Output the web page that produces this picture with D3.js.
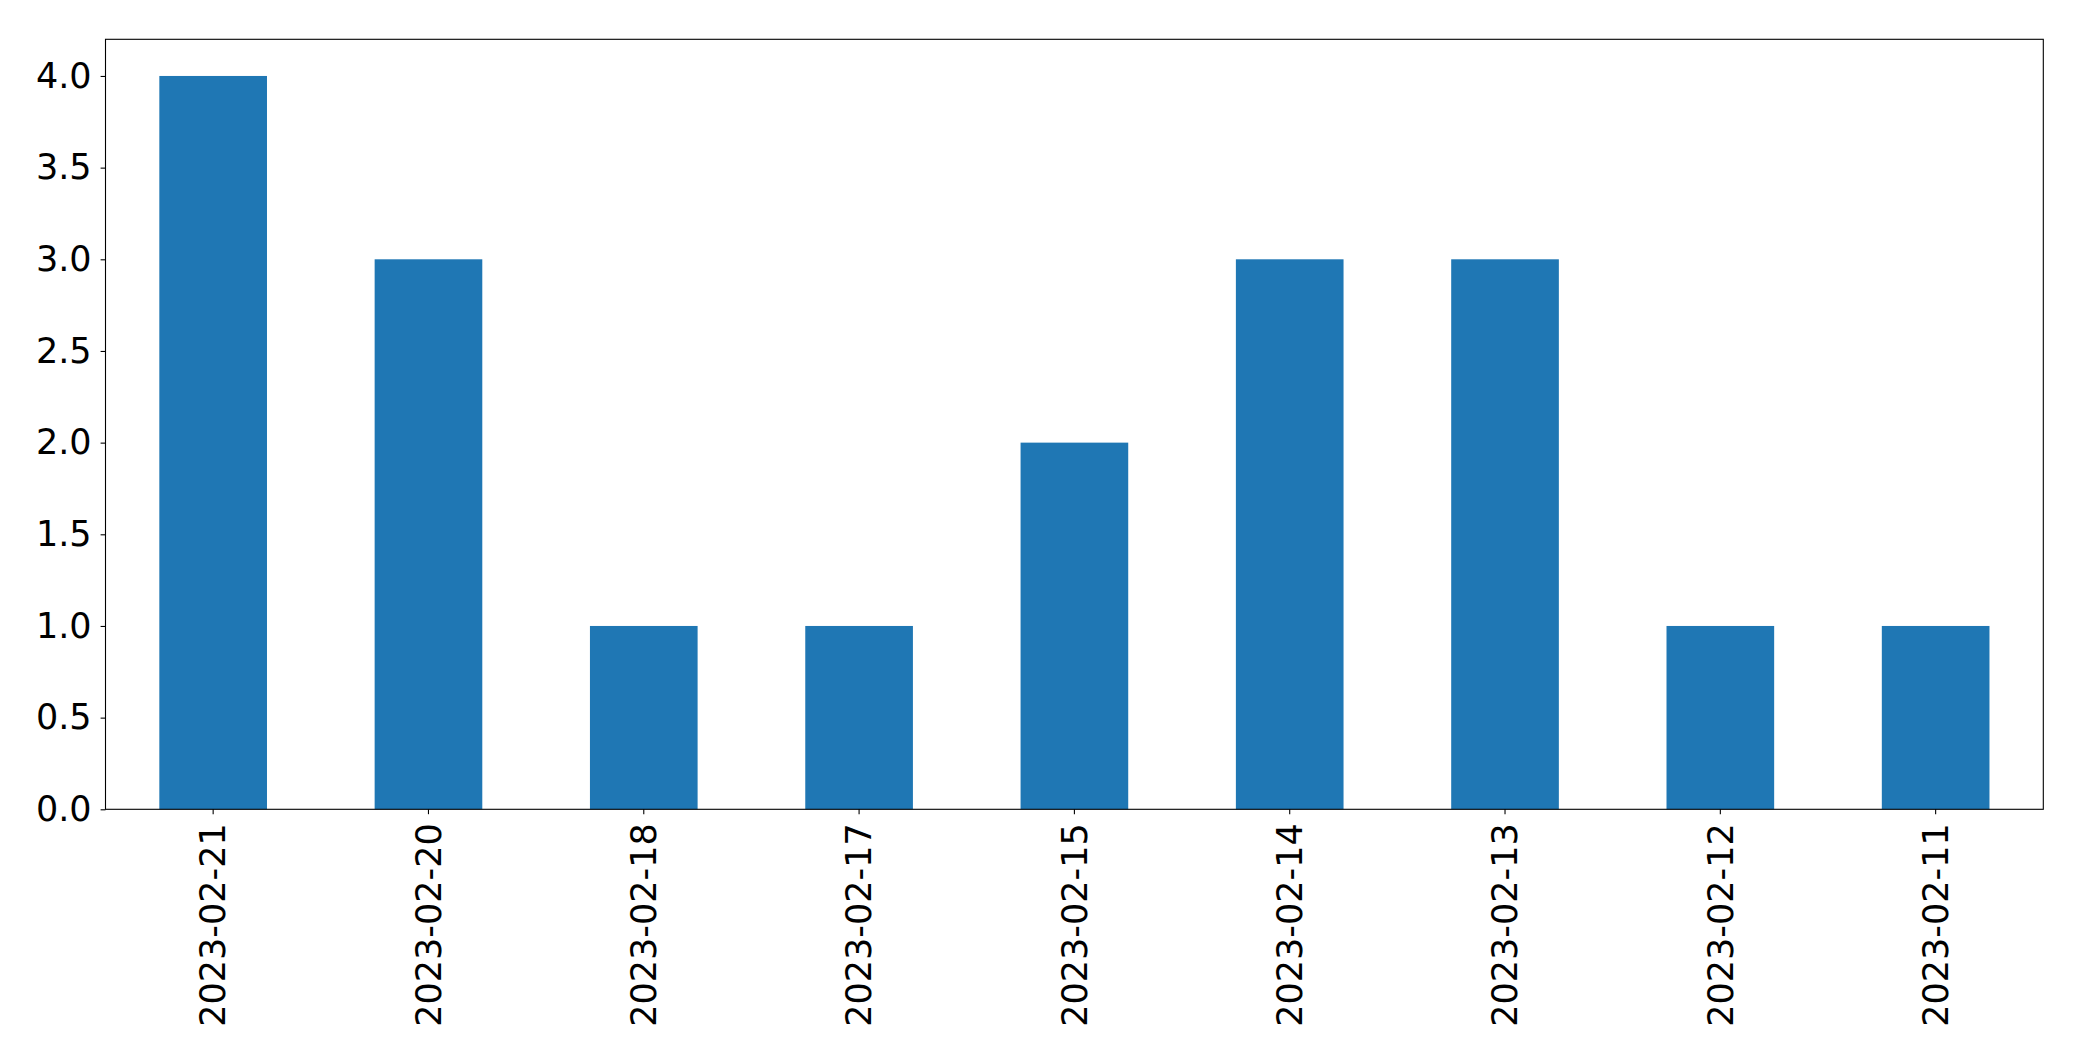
<!DOCTYPE html>
<html>
<head>
<meta charset="utf-8">
<script src="https://cdn.jsdelivr.net/npm/d3@7"></script>
<style>
  html, body { margin: 0; padding: 0; background: #fff; }
  svg { display: block; }
  text { font-family: "DejaVu Sans", sans-serif; fill: #000; }
</style>
</head>
<body>
<svg id="chart" width="2082" height="1061"></svg>
<script>
const categories = ["2023-02-21","2023-02-20","2023-02-18","2023-02-17","2023-02-15","2023-02-14","2023-02-13","2023-02-12","2023-02-11"];
const values = [4, 3, 1, 1, 2, 3, 3, 1, 1];
const yTicks = [0, 0.5, 1, 1.5, 2, 2.5, 3, 3.5, 4];

const plotLeft = 105.5, plotRight = 2043.3, plotTop = 39.3, plotBottom = 809.3;
const fontSize = 35;

const svg = d3.select("#chart");

const x = d3.scaleBand().domain(categories).range([plotLeft, plotRight]).paddingInner(0.5).paddingOuter(0.25);
const y = d3.scaleLinear().domain([0, 4.2]).range([plotBottom, plotTop]);

// bars
svg.append("g").selectAll("rect")
  .data(categories.map((c, i) => ({c, v: values[i]})))
  .join("rect")
  .attr("x", d => x(d.c))
  .attr("y", d => y(d.v))
  .attr("width", x.bandwidth())
  .attr("height", d => y(0) - y(d.v))
  .attr("fill", "#1f77b4");

// frame
svg.append("rect")
  .attr("x", plotLeft).attr("y", plotTop)
  .attr("width", plotRight - plotLeft).attr("height", plotBottom - plotTop)
  .attr("fill", "none").attr("stroke", "#000").attr("stroke-width", 1.1);

// y axis
const yAxis = d3.axisLeft(y).tickValues(yTicks).tickFormat(d3.format(".1f")).tickSize(4.9).tickPadding(9);
const gy = svg.append("g").attr("transform", `translate(${plotLeft},0)`).call(yAxis);
gy.select(".domain").remove();
gy.selectAll(".tick line").attr("stroke", "#000").attr("stroke-width", 1.1);
gy.selectAll(".tick text").style("font-size", fontSize + "px").style("font-family", "'DejaVu Sans', sans-serif").attr("fill", "#000");

// x axis
const xAxis = d3.axisBottom(x).tickSize(4.9).tickPadding(10);
const gx = svg.append("g").attr("transform", `translate(0,${plotBottom})`).call(xAxis);
gx.select(".domain").remove();
gx.selectAll(".tick line").attr("stroke", "#000").attr("stroke-width", 1.1);
gx.selectAll(".tick text")
  .style("font-size", fontSize + "px")
  .style("font-family", "'DejaVu Sans', sans-serif")
  .attr("fill", "#000")
  .attr("transform", "rotate(-90)")
  .attr("text-anchor", "end")
  .attr("x", -14)
  .attr("y", 0)
  .attr("dy", "0.35em");
</script>
</body>
</html>
